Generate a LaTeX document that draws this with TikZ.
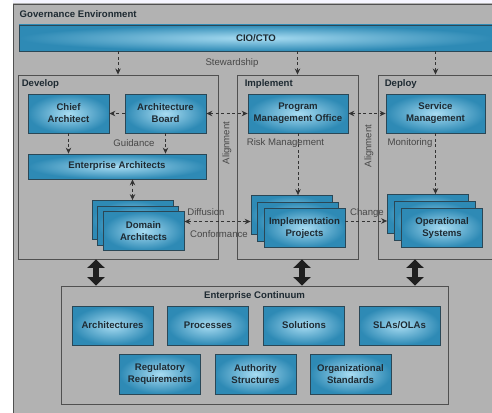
\documentclass[tikz,border=0pt]{standalone}
\usepackage{fontspec}
\setmainfont{Liberation Sans}
\usetikzlibrary{arrows.meta, positioning, calc}
\definecolor{boxedge}{HTML}{2A4756}
\definecolor{boxin}{HTML}{A8DCF2}
\definecolor{boxout}{HTML}{2E8AB5}
\definecolor{panel}{HTML}{505050}
\definecolor{lblgray}{HTML}{474747}
\definecolor{boxtext}{HTML}{1E2A32}
\newcommand{\StackBox}[5]{%
  \node[blue box] (#1-b) at (#2-2*#4, #3-2*#4) {};
  \node[blue box] (#1-m) at (#2-#4, #3-#4) {};
  \node[blue box] (#1) at (#2, #3) {#5};
}
\tikzset{
    blue box/.style={draw=boxedge, line width=0.8pt, inner color=boxin, outer color=boxout,
      font=\fontsize{9.6}{12}\selectfont\bfseries, text=boxtext, align=center,
      minimum width=81pt, minimum height=39pt, inner sep=0pt},
    panel/.style={draw=panel, line width=0.9pt, inner sep=0pt},
    title/.style={font=\fontsize{9.6}{12}\selectfont\bfseries, text=boxtext, inner sep=0pt},
    lbl/.style={font=\fontsize{9.6}{12}\selectfont, text=lblgray, inner sep=0pt},
    dasharrow/.style={draw=black!80, line width=0.8pt, dash pattern=on 3pt off 2.5pt,
      -{Stealth[length=6pt,width=5.5pt]}},
    dashboth/.style={dasharrow, {Stealth[length=6pt,width=5.5pt]}-{Stealth[length=6pt,width=5.5pt]}},
    bigarrow/.style={draw=black!88, line width=6pt,
      {Triangle[length=8.5pt,width=17pt]}-{Triangle[length=8.5pt,width=17pt]}},
}
\begin{document}
\begin{tikzpicture}[x=1pt, y=-1pt]
    \useasboundingbox (0,0) rectangle (492,412);
    \clip (0,0) rectangle (492,412);
    \fill[white] (0,0) rectangle (492,412);
    \fill[blue!4] (13,0) rectangle (492,4);

    % governance environment
    \node[panel, left color=gray!60, middle color=gray!22, right color=gray!60,
      minimum width=507pt, minimum height=426pt] (gov) at (266.5,217) {};
    \node[title, below right=7pt and 7pt of gov.north west] {Governance Environment};
    \node[blue box, minimum width=474pt, minimum height=26pt] (cio) at (256,38) {CIO/CTO};

    % develop / implement / deploy
    \node[panel, minimum width=200pt, minimum height=184pt] (develop) at (118,167) {};
    \node[panel, minimum width=121pt, minimum height=184pt] (implement) at (297.5,167) {};
    \node[panel, minimum width=142pt, minimum height=184pt] (deploy) at (449,167) {};
    \node[title, below right=5pt and 4pt of develop.north west] {Develop};
    \node[title, below right=5pt and 8pt of implement.north west] {Implement};
    \node[title, below right=5pt and 7pt of deploy.north west] {Deploy};

    \node[blue box] (chief) at (68.5,113.5) {Chief\\Architect};
    \node[blue box] (board) at (165.5,113.5) {Architecture\\Board};
    \node[blue box, minimum width=100pt] (pmo) at (298,113.5) {Program\\Management Office};
    \node[blue box, minimum width=99pt] (service) at (435.5,113.5) {Service\\Management};
    \node[blue box, minimum width=178pt, minimum height=25pt] (ea) at (117,166.5) {Enterprise Architects};

    \StackBox{domain}{143.5}{231}{5.5}{Domain\\Architects}
    \StackBox{impl}{304.5}{228}{6.5}{Implementation\\Projects}
    \StackBox{ops}{442}{228}{7}{Operational\\Systems}

    % enterprise continuum
    \node[panel, minimum width=387pt, minimum height=118pt] (ec) at (254.5,345) {};
    \node[title, below=6pt of ec.north] {Enterprise Continuum};
    \node[blue box] (arch) at (112.5,325.5) {Architectures};
    \node[blue box] (proc) at (208,325.5) {Processes};
    \node[blue box] (sol) at (304,325.5) {Solutions};
    \node[blue box] (sla) at (399.5,325.5) {SLAs/OLAs};
    \node[blue box, minimum height=40pt] (reg) at (160,374) {Regulatory\\Requirements};
    \node[blue box, minimum height=40pt] (auth) at (255.5,374) {Authority\\Structures};
    \node[blue box, minimum height=40pt] (org) at (350.5,374) {Organizational\\Standards};

    % connectors
    \draw[dasharrow] (cio.south -| develop.north) -- (develop.north);
    \draw[dasharrow] (cio.south -| implement.north) -- (implement.north);
    \draw[dasharrow] (cio.south -| service.north) -- (service.north |- deploy.north);
    \node[lbl] at (232,63) {Stewardship};

    \draw[dasharrow] (board.west) -- (chief.east);
    \draw[dashboth] (board.east) -- (pmo.west);
    \draw[dashboth] (pmo.east) -- (service.west);

    \draw[dasharrow] (chief.south) -- (chief.south |- ea.north);
    \draw[dasharrow] (board.south) -- (board.south |- ea.north);
    \node[lbl] at (134,143) {Guidance};
    \draw[dashboth] (ea.south -| domain-b.north) -- (domain-b.north);

    \draw[dasharrow] (pmo.south) -- (pmo.south |- impl-b.north);
    \node[lbl] at (285.5,143) {Risk Management};
    \draw[dasharrow] (service.south) -- (service.south |- ops-b.north);
    \node[lbl] at (410,143) {Monitoring};

    \draw[dashboth] (domain.east |- impl-m.west) -- (impl-b.west |- impl-m.west);
    \node[lbl] at (206,212) {Diffusion};
    \node[lbl] at (219,234) {Conformance};
    \draw[dasharrow] (impl.east |- ops-m.west) -- (ops-b.west |- ops-m.west);
    \node[lbl] at (367,213) {Change};

    \node[lbl, rotate=90] at (227,143) {Alignment};
    \node[lbl, rotate=90] at (369,146) {Alignment};

    \draw[bigarrow] ([xshift=-22pt]develop.south) -- ([xshift=-22pt]develop.south |- ec.north);
    \draw[bigarrow] ([xshift=4.5pt]implement.south) -- ([xshift=4.5pt]implement.south |- ec.north);
    \draw[bigarrow] ([xshift=-34pt]deploy.south) -- ([xshift=-34pt]deploy.south |- ec.north);
  \end{tikzpicture}
\end{document}
